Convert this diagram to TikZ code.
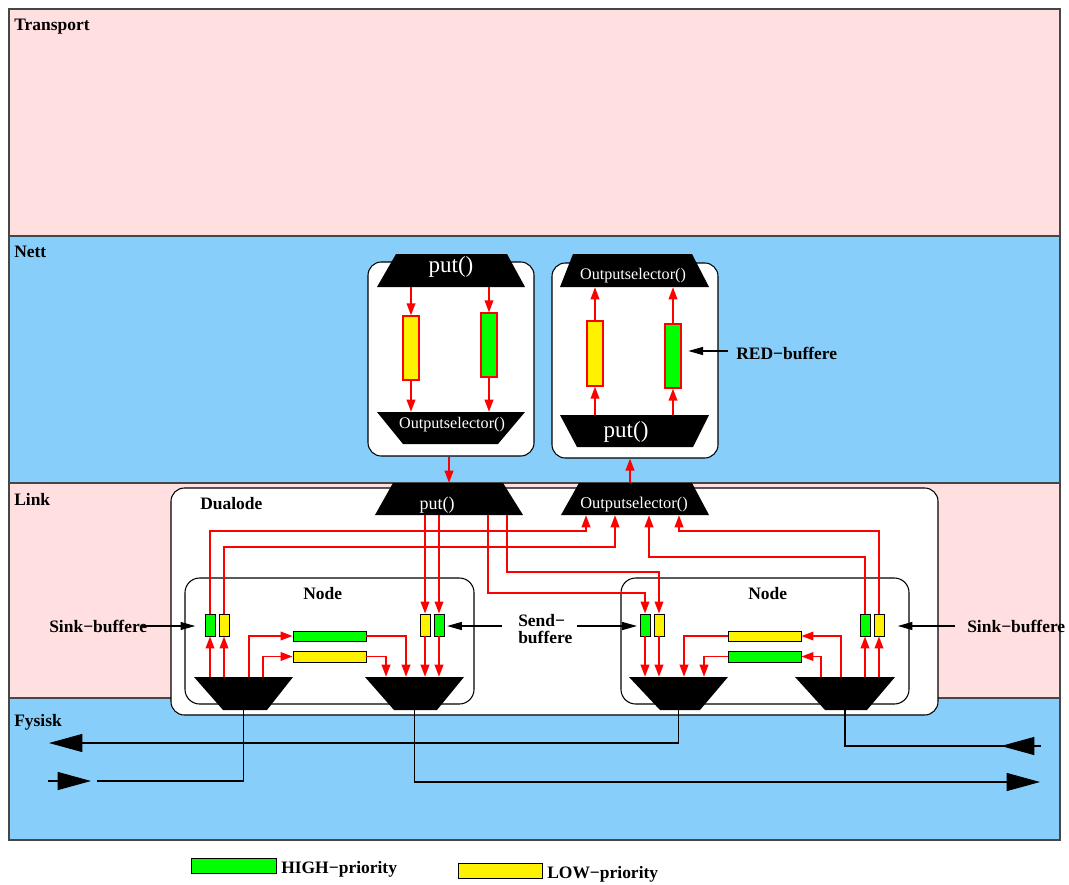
\documentclass[tikz,border=0pt]{standalone}
\usepackage{fontspec}
\setmainfont{Liberation Serif}
\usetikzlibrary{arrows.meta,fit}
\definecolor{pinkbg}{RGB}{255,223,223}
\definecolor{bluebg}{RGB}{135,206,250}
\definecolor{edgec}{RGB}{70,70,70}
\begin{document}
\begin{tikzpicture}[x=0.75pt,y=-0.75pt,
 layer/.style={draw=edgec, line width=0.9pt},
 lbl/.style={font=\bfseries\fontsize{13.1}{15}\selectfont, anchor=base west, inner sep=0pt},
 box/.style={draw=black, fill=white, rounded corners=8pt, line width=0.8pt, inner sep=0pt},
 nbuf/.style={draw=red, line width=1pt, inner sep=0pt},
 sbuf/.style={draw=black, line width=0.7pt, inner sep=0pt},
 hold/.style={inner sep=0pt},
 ttbig/.style={text=white, inner sep=0pt, font=\fontsize{17.3}{20}\selectfont},
 ttmid/.style={text=white, inner sep=0pt, font=\fontsize{13.5}{16}\selectfont},
 ttsm/.style={text=white, inner sep=0pt, font=\fontsize{12.1}{14}\selectfont},
 rarr/.style={draw=red, line width=1.2pt, -{Triangle[length=9pt,width=6.5pt]}},
 barr/.style={draw=black, line width=0.8pt, -{Triangle[length=11pt,width=6pt]}},
 bigarr/.style={draw=black, line width=0.8pt, -{Triangle[length=25pt,width=13.5pt]}},
 wire/.style={draw=black, line width=0.8pt}]
\useasboundingbox (0,0) rectangle (1069,884);
% layers
\fill[pinkbg] (9,9) rectangle (1060,236);
\fill[bluebg] (9,236) rectangle (1060,483);
\fill[pinkbg] (9,483) rectangle (1060,698);
\fill[bluebg] (9,698) rectangle (1060,840);
\draw[layer] (9,9) rectangle (1060,236);
\draw[layer] (9,236) rectangle (1060,483);
\draw[layer] (9,483) rectangle (1060,698);
\draw[layer] (9,698) rectangle (1060,840);
\node[lbl] (ltrans) at (14,31) {Transport};
\node[lbl] (lnett) at (14,257) {Nett};
\node[lbl] (llink) at (14,505) {Link};
\node[lbl] (lfys) at (14,726) {Fysisk};
% Nett boxes
\node[box, rounded corners=10pt, fit={(368,262)(534,456)}] (nlbox) {};
\node[box, rounded corners=10pt, fit={(552,263)(718,458)}] (nrbox) {};
% Dualode and Node boxes
\node[box, rounded corners=10pt, fit={(171,488)(938,715)}] (dual) {};
\node[box, rounded corners=11pt, fit={(185,578)(474,704)}] (lnode) {};
\node[box, rounded corners=11pt, fit={(621,578)(909,704)}] (rnode) {};
\node[lbl] (dlbl) at (200,509) {Dualode};
\node[lbl] (lnlbl) at (303,599) {Node};
\node[lbl] (rnlbl) at (748,599) {Node};
% trapezoids
\fill (396,254) -- (507,254) -- (525,287) -- (377,287) -- cycle;
\node[hold, fit={(377,254)(525,287)}] (nlput) {};
\node[ttbig] (nlputT) at (451,267) {put()};
\fill (377,412) -- (525,412) -- (498,444) -- (403,444) -- cycle;
\node[hold, fit={(377,412)(525,444)}] (nlos) {};
\node[ttsm] (nlosT) at (452,425) {Outputselector()};
\fill (573,254) -- (692,254) -- (709,287) -- (560,287) -- cycle;
\node[hold, fit={(560,254)(709,287)}] (nros) {};
\node[ttsm] (nrosT) at (633,276) {Outputselector()};
\fill (560,415) -- (709,415) -- (693,447) -- (577,447) -- cycle;
\node[hold, fit={(560,415)(709,447)}] (nrput) {};
\node[ttbig] (nrputT) at (626,432) {put()};
\fill (393,483) -- (503,483) -- (523,515) -- (375,515) -- cycle;
\node[hold, fit={(375,483)(523,515)}] (lput) {};
\node[ttmid] (lputT) at (437,505) {put()};
\fill (579,483) -- (692,483) -- (709,515) -- (561,515) -- cycle;
\node[hold, fit={(561,483)(709,515)}] (los) {};
\node[ttsm, font=\fontsize{12.3}{14}\selectfont] (losT) at (634,505) {Outputselector()};
\fill (194,677) -- (293,677) -- (267,710) -- (223,710) -- cycle;
\node[hold, fit={(194,677)(293,710)}] (lmA) {};
\fill (365,677) -- (464,677) -- (437,710) -- (394,710) -- cycle;
\node[hold, fit={(365,677)(464,710)}] (lmB) {};
\fill (629,677) -- (728,677) -- (700,710) -- (660,710) -- cycle;
\node[hold, fit={(629,677)(728,710)}] (rmA) {};
\fill (795,677) -- (895,677) -- (867,710) -- (825,710) -- cycle;
\node[hold, fit={(795,677)(895,710)}] (rmB) {};
% Nett buffers
\node[nbuf, fill=yellow, fit={(403,316)(419,380)}] (nly) {};
\node[nbuf, fill=green, fit={(481,313)(497,377)}] (nlg) {};
\node[nbuf, fill=yellow, fit={(587,321)(603,386)}] (nry) {};
\node[nbuf, fill=green, fit={(665,324)(681,388)}] (nrg) {};
% Link buffers
\node[sbuf, fill=green, fit={(205,614)(215,636)}] (lkg) {};
\node[sbuf, fill=yellow, fit={(219,614)(229,636)}] (lky) {};
\node[sbuf, fill=yellow, fit={(420,614)(430,636)}] (lsy) {};
\node[sbuf, fill=green, fit={(434,614)(444,636)}] (lsg) {};
\node[sbuf, fill=green, fit={(293,631)(366,641)}] (lhg) {};
\node[sbuf, fill=yellow, fit={(293,651)(366,662)}] (lhy) {};
\node[sbuf, fill=green, fit={(640,614)(650,636)}] (rsg) {};
\node[sbuf, fill=yellow, fit={(654,614)(664,636)}] (rsy) {};
\node[sbuf, fill=green, fit={(860,614)(870,636)}] (rkg) {};
\node[sbuf, fill=yellow, fit={(874,614)(884,636)}] (rky) {};
\node[sbuf, fill=yellow, fit={(728,631)(801,641)}] (rhy) {};
\node[sbuf, fill=green, fit={(728,651)(801,662)}] (rhg) {};
% Nett arrows
\draw[rarr] (nlput.south -| nly.north) -- (nly.north);
\draw[rarr] (nly.south) -- (nly.south |- nlos.north);
\draw[rarr] (nlput.south -| nlg.north) -- (nlg.north);
\draw[rarr] (nlg.south) -- (nlg.south |- nlos.north);
\draw[rarr] (nrput.north -| nry.south) -- (nry.south);
\draw[rarr] (nry.north) -- (nry.north |- nros.south);
\draw[rarr] (nrput.north -| nrg.south) -- (nrg.south);
\draw[rarr] (nrg.north) -- (nrg.north |- nros.south);
% helper coordinates
\coordinate (c1) at (586,531);
\coordinate (c2) at (615,547);
\coordinate (c3) at (649,557);
\coordinate (c4) at (679,531);
\coordinate (c5) at (488,593);
\coordinate (c6) at (507,572);
\coordinate (c7) at (249,0);
\coordinate (c8) at (263,0);
\coordinate (c9) at (406,0);
\coordinate (c10) at (386,0);
\coordinate (c11) at (684,0);
\coordinate (c12) at (704,0);
\coordinate (c13) at (841,0);
\coordinate (c14) at (821,0);
\coordinate (c15) at (630,0);
% Nett <-> Link
\draw[rarr] (nlbox.south -| lput.north) -- (lput.north);
\draw[rarr] (los.north -| c15) -- (nrbox.south -| c15);
% Link wiring
\draw[rarr] (lkg.north) |- (c1) -- (los.south -| c1);
\draw[rarr] (lky.north) |- (c2) -- (los.south -| c2);
\draw[rarr] (rkg.north) |- (c3) -- (los.south -| c3);
\draw[rarr] (rky.north) |- (c4) -- (los.south -| c4);
\draw[rarr] (lput.south -| c5) -- (c5) -| (rsg.north);
\draw[rarr] (lput.south -| c6) -- (c6) -| (rsy.north);
\draw[rarr] (lput.south -| lsy.north) -- (lsy.north);
\draw[rarr] (lput.south -| lsg.north) -- (lsg.north);
% left node
\draw[rarr] (lkg.south |- lmA.north) -- (lkg.south);
\draw[rarr] (lky.south |- lmA.north) -- (lky.south);
\draw[rarr] (lmA.north -| c7) |- (lhg.west);
\draw[rarr] (lmA.north -| c8) |- (lhy.west);
\draw[rarr] (lhg.east) -| (lmB.north -| c9);
\draw[rarr] (lhy.east) -| (lmB.north -| c10);
\draw[rarr] (lsy.south) -- (lsy.south |- lmB.north);
\draw[rarr] (lsg.south) -- (lsg.south |- lmB.north);
% right node
\draw[rarr] (rsg.south) -- (rsg.south |- rmA.north);
\draw[rarr] (rsy.south) -- (rsy.south |- rmA.north);
\draw[rarr] (rhy.west) -| (rmA.north -| c11);
\draw[rarr] (rhg.west) -| (rmA.north -| c12);
\draw[rarr] (rmB.north -| c13) |- (rhy.east);
\draw[rarr] (rmB.north -| c14) |- (rhg.east);
\draw[rarr] (rkg.south |- rmB.north) -- (rkg.south);
\draw[rarr] (rky.south |- rmB.north) -- (rky.south);
% labels with black arrows
\node[lbl] (redlbl) at (736,359) {RED−buffere};
\coordinate (redS) at (728,351);
\draw[barr, shorten >=5pt] (redS) -- (nrg.east |- redS);
\node[lbl] (sinkL) at (49,632) {Sink−buffere};
\coordinate (sinkLS) at (142,626);
\draw[barr, shorten >=7pt] (sinkLS) -- (lkg.west |- sinkLS);
\node[lbl] (sinkR) at (967,632) {Sink−buffere};
\coordinate (sinkRS) at (955,626);
\draw[barr, shorten >=10pt] (sinkRS) -- (rky.east |- sinkRS);
\node[lbl, anchor=north west, align=left, font=\bfseries\fontsize{13.1}{12.5}\selectfont] (send) at (518,614) {Send−\\buffere};
\coordinate (sendLS) at (502,626);
\coordinate (sendRS) at (577,626);
\draw[barr, shorten >=2pt] (sendLS) -- (lsg.east |- sendLS);
\draw[barr, shorten >=2pt] (sendRS) -- (rsg.west |- sendRS);
% Fysisk
\coordinate (fA) at (49,743);
\draw[bigarr] (rmA.south) |- (fA);
\coordinate (fB0) at (48,781);
\coordinate (fB1) at (91,781);
\coordinate (fB2) at (97,781);
\draw[bigarr] (fB0) -- (fB1);
\draw[wire] (fB2) -| (lmA.south);
\coordinate (fC) at (1040,782);
\draw[bigarr] (lmB.south) |- (fC);
\coordinate (fD) at (1041,746);
\coordinate (fD1) at (1001,746);
\draw[wire] (rmB.south) |- (fD);
\draw[bigarr] (fD) -- (fD1);
% legend
\node[sbuf, fill=green, fit={(191,858)(276,873)}] (leghi) {};
\node[lbl] (leghiT) at (281,873) {HIGH−priority};
\node[sbuf, fill=yellow, fit={(458,863)(542,878)}] (leglo) {};
\node[lbl] (legloT) at (547,878) {LOW−priority};
\end{tikzpicture}
\end{document}
